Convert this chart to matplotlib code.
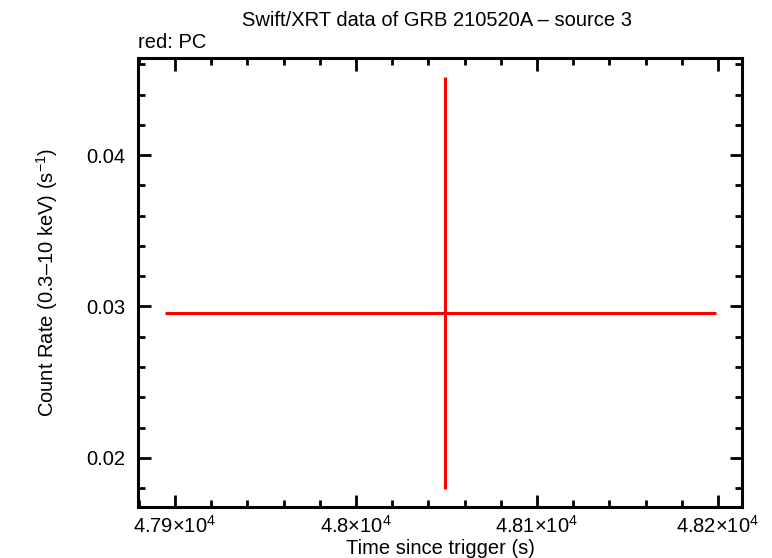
import numpy as np
import matplotlib
matplotlib.use("Agg")
import matplotlib.pyplot as plt
from matplotlib.ticker import MultipleLocator, FixedLocator, FixedFormatter

# Data: one PC-mode bin
t_mid = [48049.0]
t_lo = [48049.0 - 47894.5]
t_hi = [48199.0 - 48049.0]
rate = [0.02955]
rate_lo = [0.02955 - 0.01795]
rate_hi = [0.04517 - 0.02955]

x_ticks = [47900, 48000, 48100, 48200]
x_labels = [r"4.79$\times$10$^{4}$", r"4.8$\times$10$^{4}$",
            r"4.81$\times$10$^{4}$", r"4.82$\times$10$^{4}$"]
y_ticks = [0.02, 0.03, 0.04]
y_labels = ["0.02", "0.03", "0.04"]

plt.rcParams['font.family'] = ['Liberation Sans', 'DejaVu Sans']
plt.rcParams['mathtext.fontset'] = 'custom'
plt.rcParams['mathtext.rm'] = 'Liberation Sans'
plt.rcParams['mathtext.default'] = 'regular'

fig = plt.figure(figsize=(7.72, 5.58), dpi=100)
ax = fig.add_axes([138/772, 1 - 507/558, (742 - 138)/772, (507 - 58)/558])

ax.errorbar(t_mid, rate, xerr=[t_lo, t_hi], yerr=[rate_lo, rate_hi],
            fmt='none', ecolor='red', elinewidth=2.2, capsize=0)

ax.set_xlim(47879.6, 48213.3)
ax.set_ylim(0.01675, 0.04642)

ax.xaxis.set_major_locator(FixedLocator(x_ticks))
ax.xaxis.set_major_formatter(FixedFormatter(x_labels))
ax.xaxis.set_minor_locator(MultipleLocator(20))
ax.yaxis.set_major_locator(FixedLocator(y_ticks))
ax.yaxis.set_major_formatter(FixedFormatter(y_labels))
ax.yaxis.set_minor_locator(MultipleLocator(0.002))

ax.tick_params(which='both', direction='in', top=True, right=True, width=2, labelsize=14.5)
ax.tick_params(which='major', length=9, pad=6)
ax.tick_params(which='minor', length=5)
ax.tick_params(axis='y', which='major', pad=9)
for s in ax.spines.values():
    s.set_linewidth(2.2)

ax.set_xlabel("Time since trigger (s)", fontsize=14.5, labelpad=1)
ax.set_ylabel("Count Rate (0.3\u201310 keV) (s$^{-1}$)", fontsize=14.5, labelpad=19)
fig.text(437/772, 1 - 20/558, "Swift/XRT data of GRB 210520A \u2013 source 3",
         ha='center', va='center', fontsize=14.5)
fig.text(138/772, 1 - 42/558, "red: PC", ha='left', va='center', fontsize=14.5)

fig.savefig("out.png", dpi=100)
